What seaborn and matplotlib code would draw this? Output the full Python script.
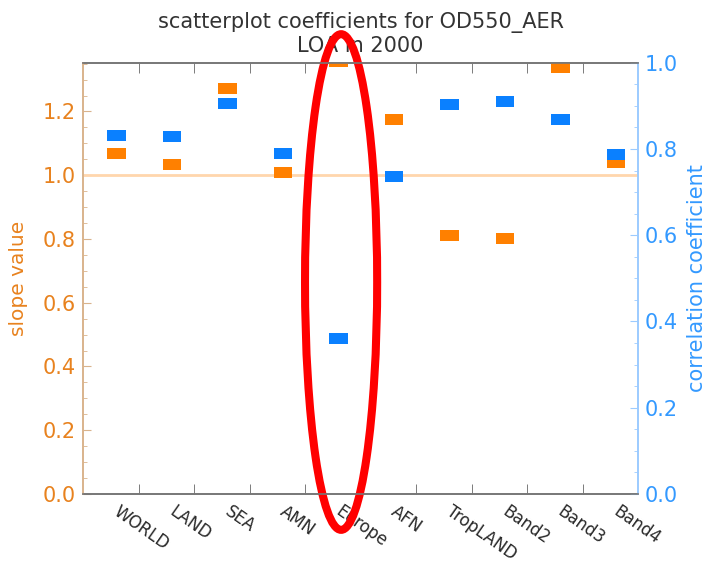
import numpy as np
import pandas as pd
import seaborn as sns
import matplotlib.pyplot as plt
from matplotlib.patches import Ellipse
from matplotlib.ticker import MultipleLocator, FixedLocator

# regioes e coeficientes
regions = ['WORLD', 'LAND', 'SEA', 'AMN', 'Europe', 'AFN', 'TropLAND', 'Band2', 'Band3', 'Band4']
slope = [1.067, 1.034, 1.273, 1.008, 1.358, 1.176, 0.810, 0.800, 1.338, 1.040]
corr = [0.831, 0.829, 0.905, 0.789, 0.360, 0.736, 0.903, 0.910, 0.869, 0.787]

df = pd.DataFrame({'region': regions, 'pos': np.arange(len(regions)),
                   'slope': slope, 'corr': corr})

sns.set_style('white')
plt.rcParams['font.family'] = ['DejaVu Sans']

orange = '#FF8000'
blue = '#0A80FF'
rect = [(-1, -0.6), (1, -0.6), (1, 0.6), (-1, 0.6), (-1, -0.6)]

fig = plt.figure(figsize=(7.06, 5.65), dpi=100)
ax = fig.add_axes([0.1176, 0.1257, 0.7861, 0.7633])
ax2 = ax.twinx()

# linha de referencia em slope = 1
ax.axhline(1.0, color='#FFD6AD', lw=2, zorder=1)

sns.scatterplot(ax=ax, data=df, x='pos', y='slope', marker=rect, s=175,
                color=orange, edgecolor='none', zorder=3)
sns.scatterplot(ax=ax2, data=df, x='pos', y='corr', marker=rect, s=175,
                color=blue, edgecolor='none', zorder=3)

ax.set_xlim(-0.6, 9.4)
ax.set_ylim(0, 1.353)
ax2.set_ylim(0, 1.0)

# eixo x: rotulos nos pontos, tracos entre eles
ax.xaxis.set_major_locator(FixedLocator(df['pos'] + 0.08))
ax.set_xticklabels(regions, rotation=-35, ha='left', va='top',
                   rotation_mode='anchor', fontsize=12, color='#2a2a2a')
ax.xaxis.set_minor_locator(FixedLocator(df['pos'][:-1] + 0.4))
ax.tick_params(axis='x', which='major', length=0, pad=6)
ax.tick_params(axis='x', which='minor', direction='in', length=7,
               color='#666666', top=True, bottom=True)
ax2.tick_params(axis='x', which='both', top=False, bottom=False)

ax.set_yticks(np.arange(0, 1.3, 0.2))
ax.set_yticklabels(['%.1f' % v for v in np.arange(0, 1.3, 0.2)])
ax.yaxis.set_minor_locator(MultipleLocator(0.05))
ax.tick_params(axis='y', which='major', direction='in', length=6, pad=5,
               color='#D9B38C', labelcolor='#E8821E', labelsize=15, left=True)
ax.tick_params(axis='y', which='minor', direction='in', length=3,
               color='#D9B38C', left=True)

ax2.yaxis.set_major_locator(MultipleLocator(0.2))
ax2.yaxis.set_minor_locator(MultipleLocator(0.05))
ax2.tick_params(axis='y', which='major', direction='in', length=6, pad=5,
                color='#9CCBFF', labelcolor='#3399FF', labelsize=15, right=True)
ax2.tick_params(axis='y', which='minor', direction='in', length=3,
                color='#9CCBFF', right=True)

ax.set_xlabel('')
ax.set_ylabel('slope value', color='#E8821E', fontsize=14.5, labelpad=11)
ax2.set_ylabel('correlation coefficient', color='#3399FF', fontsize=15, labelpad=6)

for a in (ax, ax2):
    a.spines['left'].set_color('#D9B38C')
    a.spines['right'].set_color('#9CCBFF')
    a.spines['top'].set_color('#777777')
    a.spines['bottom'].set_color('#777777')
    for s in a.spines.values():
        s.set_linewidth(1.2)

ax.set_title('scatterplot coefficients for OD550_AER\nLOA in 2000',
             fontsize=15, color='#333333', pad=8, linespacing=1.15)

# marcacao vermelha em volta de Europe
ell = Ellipse((4.05, 0.665), width=1.3, height=1.555, fill=False,
              edgecolor='#FF0000', lw=5.8, clip_on=False, zorder=10)
ax.add_patch(ell)

plt.savefig('out.png', dpi=100)
